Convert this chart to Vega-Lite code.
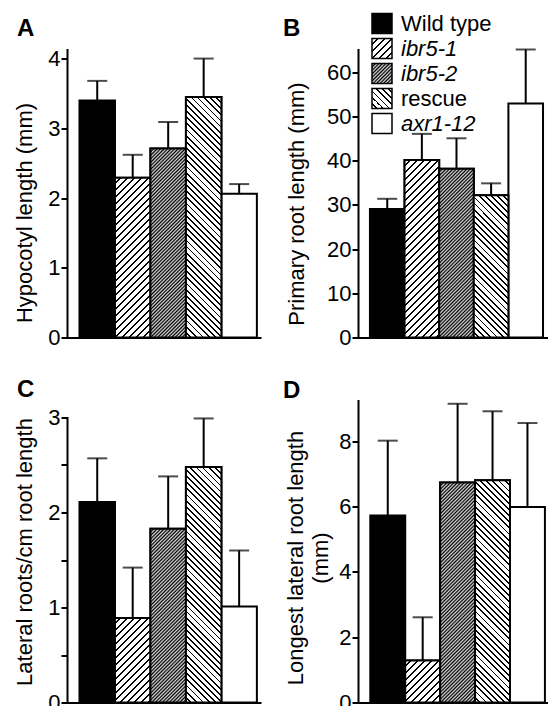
{
"$schema":"https://vega.github.io/schema/vega-lite/v6.json",
"padding":{"left":12,"top":12.5,"right":0,"bottom":0},
"params":[
{"name":"S1","value":[{"offset":0,"color":"#fff"},{"offset":0.0175,"color":"#fff"},{"offset":0.0175,"color":"#000"},{"offset":0.025,"color":"#000"},{"offset":0.025,"color":"#fff"},{"offset":0.0425,"color":"#fff"},{"offset":0.0425,"color":"#000"},{"offset":0.05,"color":"#000"},{"offset":0.05,"color":"#fff"},{"offset":0.0675,"color":"#fff"},{"offset":0.0675,"color":"#000"},{"offset":0.075,"color":"#000"},{"offset":0.075,"color":"#fff"},{"offset":0.0925,"color":"#fff"},{"offset":0.0925,"color":"#000"},{"offset":0.1,"color":"#000"},{"offset":0.1,"color":"#fff"},{"offset":0.1175,"color":"#fff"},{"offset":0.1175,"color":"#000"},{"offset":0.125,"color":"#000"},{"offset":0.125,"color":"#fff"},{"offset":0.1425,"color":"#fff"},{"offset":0.1425,"color":"#000"},{"offset":0.15,"color":"#000"},{"offset":0.15,"color":"#fff"},{"offset":0.1675,"color":"#fff"},{"offset":0.1675,"color":"#000"},{"offset":0.175,"color":"#000"},{"offset":0.175,"color":"#fff"},{"offset":0.1925,"color":"#fff"},{"offset":0.1925,"color":"#000"},{"offset":0.2,"color":"#000"},{"offset":0.2,"color":"#fff"},{"offset":0.2175,"color":"#fff"},{"offset":0.2175,"color":"#000"},{"offset":0.225,"color":"#000"},{"offset":0.225,"color":"#fff"},{"offset":0.2425,"color":"#fff"},{"offset":0.2425,"color":"#000"},{"offset":0.25,"color":"#000"},{"offset":0.25,"color":"#fff"},{"offset":0.2675,"color":"#fff"},{"offset":0.2675,"color":"#000"},{"offset":0.275,"color":"#000"},{"offset":0.275,"color":"#fff"},{"offset":0.2925,"color":"#fff"},{"offset":0.2925,"color":"#000"},{"offset":0.3,"color":"#000"},{"offset":0.3,"color":"#fff"},{"offset":0.3175,"color":"#fff"},{"offset":0.3175,"color":"#000"},{"offset":0.325,"color":"#000"},{"offset":0.325,"color":"#fff"},{"offset":0.3425,"color":"#fff"},{"offset":0.3425,"color":"#000"},{"offset":0.35,"color":"#000"},{"offset":0.35,"color":"#fff"},{"offset":0.3675,"color":"#fff"},{"offset":0.3675,"color":"#000"},{"offset":0.375,"color":"#000"},{"offset":0.375,"color":"#fff"},{"offset":0.3925,"color":"#fff"},{"offset":0.3925,"color":"#000"},{"offset":0.4,"color":"#000"},{"offset":0.4,"color":"#fff"},{"offset":0.4175,"color":"#fff"},{"offset":0.4175,"color":"#000"},{"offset":0.425,"color":"#000"},{"offset":0.425,"color":"#fff"},{"offset":0.4425,"color":"#fff"},{"offset":0.4425,"color":"#000"},{"offset":0.45,"color":"#000"},{"offset":0.45,"color":"#fff"},{"offset":0.4675,"color":"#fff"},{"offset":0.4675,"color":"#000"},{"offset":0.475,"color":"#000"},{"offset":0.475,"color":"#fff"},{"offset":0.4925,"color":"#fff"},{"offset":0.4925,"color":"#000"},{"offset":0.5,"color":"#000"},{"offset":0.5,"color":"#fff"},{"offset":0.5175,"color":"#fff"},{"offset":0.5175,"color":"#000"},{"offset":0.525,"color":"#000"},{"offset":0.525,"color":"#fff"},{"offset":0.5425,"color":"#fff"},{"offset":0.5425,"color":"#000"},{"offset":0.55,"color":"#000"},{"offset":0.55,"color":"#fff"},{"offset":0.5675,"color":"#fff"},{"offset":0.5675,"color":"#000"},{"offset":0.575,"color":"#000"},{"offset":0.575,"color":"#fff"},{"offset":0.5925,"color":"#fff"},{"offset":0.5925,"color":"#000"},{"offset":0.6,"color":"#000"},{"offset":0.6,"color":"#fff"},{"offset":0.6175,"color":"#fff"},{"offset":0.6175,"color":"#000"},{"offset":0.625,"color":"#000"},{"offset":0.625,"color":"#fff"},{"offset":0.6425,"color":"#fff"},{"offset":0.6425,"color":"#000"},{"offset":0.65,"color":"#000"},{"offset":0.65,"color":"#fff"},{"offset":0.6675,"color":"#fff"},{"offset":0.6675,"color":"#000"},{"offset":0.675,"color":"#000"},{"offset":0.675,"color":"#fff"},{"offset":0.6925,"color":"#fff"},{"offset":0.6925,"color":"#000"},{"offset":0.7,"color":"#000"},{"offset":0.7,"color":"#fff"},{"offset":0.7175,"color":"#fff"},{"offset":0.7175,"color":"#000"},{"offset":0.725,"color":"#000"},{"offset":0.725,"color":"#fff"},{"offset":0.7425,"color":"#fff"},{"offset":0.7425,"color":"#000"},{"offset":0.75,"color":"#000"},{"offset":0.75,"color":"#fff"},{"offset":0.7675,"color":"#fff"},{"offset":0.7675,"color":"#000"},{"offset":0.775,"color":"#000"},{"offset":0.775,"color":"#fff"},{"offset":0.7925,"color":"#fff"},{"offset":0.7925,"color":"#000"},{"offset":0.8,"color":"#000"},{"offset":0.8,"color":"#fff"},{"offset":1,"color":"#fff"}]},
{"name":"S2","value":[{"offset":0,"color":"#000"},{"offset":0.00625,"color":"#ddd"},{"offset":0.0125,"color":"#000"},{"offset":0.01875,"color":"#ddd"},{"offset":0.025,"color":"#000"},{"offset":0.03125,"color":"#ddd"},{"offset":0.0375,"color":"#000"},{"offset":0.04375,"color":"#ddd"},{"offset":0.05,"color":"#000"},{"offset":0.05625,"color":"#ddd"},{"offset":0.0625,"color":"#000"},{"offset":0.06875,"color":"#ddd"},{"offset":0.075,"color":"#000"},{"offset":0.08125,"color":"#ddd"},{"offset":0.0875,"color":"#000"},{"offset":0.09375,"color":"#ddd"},{"offset":0.1,"color":"#000"},{"offset":0.10625,"color":"#ddd"},{"offset":0.1125,"color":"#000"},{"offset":0.11875,"color":"#ddd"},{"offset":0.125,"color":"#000"},{"offset":0.13125,"color":"#ddd"},{"offset":0.1375,"color":"#000"},{"offset":0.14375,"color":"#ddd"},{"offset":0.15,"color":"#000"},{"offset":0.15625,"color":"#ddd"},{"offset":0.1625,"color":"#000"},{"offset":0.16875,"color":"#ddd"},{"offset":0.175,"color":"#000"},{"offset":0.18125,"color":"#ddd"},{"offset":0.1875,"color":"#000"},{"offset":0.19375,"color":"#ddd"},{"offset":0.2,"color":"#000"},{"offset":0.20625,"color":"#ddd"},{"offset":0.2125,"color":"#000"},{"offset":0.21875,"color":"#ddd"},{"offset":0.225,"color":"#000"},{"offset":0.23125,"color":"#ddd"},{"offset":0.2375,"color":"#000"},{"offset":0.24375,"color":"#ddd"},{"offset":0.25,"color":"#000"},{"offset":0.25625,"color":"#ddd"},{"offset":0.2625,"color":"#000"},{"offset":0.26875,"color":"#ddd"},{"offset":0.275,"color":"#000"},{"offset":0.28125,"color":"#ddd"},{"offset":0.2875,"color":"#000"},{"offset":0.29375,"color":"#ddd"},{"offset":0.3,"color":"#000"},{"offset":0.30625,"color":"#ddd"},{"offset":0.3125,"color":"#000"},{"offset":0.31875,"color":"#ddd"},{"offset":0.325,"color":"#000"},{"offset":0.33125,"color":"#ddd"},{"offset":0.3375,"color":"#000"},{"offset":0.34375,"color":"#ddd"},{"offset":0.35,"color":"#000"},{"offset":0.35625,"color":"#ddd"},{"offset":0.3625,"color":"#000"},{"offset":0.36875,"color":"#ddd"},{"offset":0.375,"color":"#000"},{"offset":0.38125,"color":"#ddd"},{"offset":0.3875,"color":"#000"},{"offset":0.39375,"color":"#ddd"},{"offset":0.4,"color":"#000"},{"offset":0.40625,"color":"#ddd"},{"offset":0.4125,"color":"#000"},{"offset":0.41875,"color":"#ddd"},{"offset":0.425,"color":"#000"},{"offset":0.43125,"color":"#ddd"},{"offset":0.4375,"color":"#000"},{"offset":0.44375,"color":"#ddd"},{"offset":0.45,"color":"#000"},{"offset":0.45625,"color":"#ddd"},{"offset":0.4625,"color":"#000"},{"offset":0.46875,"color":"#ddd"},{"offset":0.475,"color":"#000"},{"offset":0.48125,"color":"#ddd"},{"offset":0.4875,"color":"#000"},{"offset":0.49375,"color":"#ddd"},{"offset":0.5,"color":"#000"},{"offset":0.50625,"color":"#ddd"},{"offset":0.5125,"color":"#000"},{"offset":0.51875,"color":"#ddd"},{"offset":0.525,"color":"#000"},{"offset":0.53125,"color":"#ddd"},{"offset":0.5375,"color":"#000"},{"offset":0.54375,"color":"#ddd"},{"offset":0.55,"color":"#000"},{"offset":0.55625,"color":"#ddd"},{"offset":0.5625,"color":"#000"},{"offset":0.56875,"color":"#ddd"},{"offset":0.575,"color":"#000"},{"offset":0.58125,"color":"#ddd"},{"offset":0.5875,"color":"#000"},{"offset":0.59375,"color":"#ddd"},{"offset":0.6,"color":"#000"},{"offset":0.60625,"color":"#ddd"},{"offset":0.6125,"color":"#000"},{"offset":0.61875,"color":"#ddd"},{"offset":0.625,"color":"#000"},{"offset":0.63125,"color":"#ddd"},{"offset":0.6375,"color":"#000"},{"offset":0.64375,"color":"#ddd"},{"offset":0.65,"color":"#000"},{"offset":0.65625,"color":"#ddd"},{"offset":0.6625,"color":"#000"},{"offset":0.66875,"color":"#ddd"},{"offset":0.675,"color":"#000"},{"offset":0.68125,"color":"#ddd"},{"offset":0.6875,"color":"#000"},{"offset":0.69375,"color":"#ddd"},{"offset":0.7,"color":"#000"},{"offset":0.70625,"color":"#ddd"},{"offset":0.7125,"color":"#000"},{"offset":0.71875,"color":"#ddd"},{"offset":0.725,"color":"#000"},{"offset":0.73125,"color":"#ddd"},{"offset":0.7375,"color":"#000"},{"offset":0.74375,"color":"#ddd"},{"offset":0.75,"color":"#000"},{"offset":0.75625,"color":"#ddd"},{"offset":0.7625,"color":"#000"},{"offset":0.76875,"color":"#ddd"},{"offset":0.775,"color":"#000"},{"offset":0.78125,"color":"#ddd"},{"offset":0.7875,"color":"#000"},{"offset":0.79375,"color":"#ddd"},{"offset":0.8,"color":"#000"},{"offset":0.80625,"color":"#ddd"},{"offset":0.8125,"color":"#000"},{"offset":0.81875,"color":"#ddd"},{"offset":0.825,"color":"#000"},{"offset":0.83125,"color":"#ddd"},{"offset":0.8375,"color":"#000"},{"offset":0.84375,"color":"#ddd"},{"offset":0.85,"color":"#000"},{"offset":0.85625,"color":"#ddd"},{"offset":0.8625,"color":"#000"},{"offset":0.86875,"color":"#ddd"},{"offset":0.875,"color":"#000"},{"offset":0.88125,"color":"#ddd"},{"offset":0.8875,"color":"#000"},{"offset":0.89375,"color":"#ddd"},{"offset":0.9,"color":"#000"},{"offset":0.90625,"color":"#ddd"},{"offset":0.9125,"color":"#000"},{"offset":0.91875,"color":"#ddd"},{"offset":0.925,"color":"#000"},{"offset":1,"color":"#000"}]},
{"name":"S3","value":[{"offset":0,"color":"#fff"},{"offset":0.0155,"color":"#fff"},{"offset":0.0155,"color":"#000"},{"offset":0.022,"color":"#000"},{"offset":0.022,"color":"#fff"},{"offset":0.0375,"color":"#fff"},{"offset":0.0375,"color":"#000"},{"offset":0.044,"color":"#000"},{"offset":0.044,"color":"#fff"},{"offset":0.0595,"color":"#fff"},{"offset":0.0595,"color":"#000"},{"offset":0.066,"color":"#000"},{"offset":0.066,"color":"#fff"},{"offset":0.0815,"color":"#fff"},{"offset":0.0815,"color":"#000"},{"offset":0.088,"color":"#000"},{"offset":0.088,"color":"#fff"},{"offset":0.1035,"color":"#fff"},{"offset":0.1035,"color":"#000"},{"offset":0.11,"color":"#000"},{"offset":0.11,"color":"#fff"},{"offset":0.1255,"color":"#fff"},{"offset":0.1255,"color":"#000"},{"offset":0.132,"color":"#000"},{"offset":0.132,"color":"#fff"},{"offset":0.1475,"color":"#fff"},{"offset":0.1475,"color":"#000"},{"offset":0.154,"color":"#000"},{"offset":0.154,"color":"#fff"},{"offset":0.1695,"color":"#fff"},{"offset":0.1695,"color":"#000"},{"offset":0.176,"color":"#000"},{"offset":0.176,"color":"#fff"},{"offset":0.1915,"color":"#fff"},{"offset":0.1915,"color":"#000"},{"offset":0.198,"color":"#000"},{"offset":0.198,"color":"#fff"},{"offset":0.2135,"color":"#fff"},{"offset":0.2135,"color":"#000"},{"offset":0.22,"color":"#000"},{"offset":0.22,"color":"#fff"},{"offset":0.2355,"color":"#fff"},{"offset":0.2355,"color":"#000"},{"offset":0.242,"color":"#000"},{"offset":0.242,"color":"#fff"},{"offset":0.2575,"color":"#fff"},{"offset":0.2575,"color":"#000"},{"offset":0.264,"color":"#000"},{"offset":0.264,"color":"#fff"},{"offset":0.2795,"color":"#fff"},{"offset":0.2795,"color":"#000"},{"offset":0.286,"color":"#000"},{"offset":0.286,"color":"#fff"},{"offset":0.3015,"color":"#fff"},{"offset":0.3015,"color":"#000"},{"offset":0.308,"color":"#000"},{"offset":0.308,"color":"#fff"},{"offset":0.3235,"color":"#fff"},{"offset":0.3235,"color":"#000"},{"offset":0.33,"color":"#000"},{"offset":0.33,"color":"#fff"},{"offset":0.3455,"color":"#fff"},{"offset":0.3455,"color":"#000"},{"offset":0.352,"color":"#000"},{"offset":0.352,"color":"#fff"},{"offset":0.3675,"color":"#fff"},{"offset":0.3675,"color":"#000"},{"offset":0.374,"color":"#000"},{"offset":0.374,"color":"#fff"},{"offset":0.3895,"color":"#fff"},{"offset":0.3895,"color":"#000"},{"offset":0.396,"color":"#000"},{"offset":0.396,"color":"#fff"},{"offset":0.4115,"color":"#fff"},{"offset":0.4115,"color":"#000"},{"offset":0.418,"color":"#000"},{"offset":0.418,"color":"#fff"},{"offset":0.4335,"color":"#fff"},{"offset":0.4335,"color":"#000"},{"offset":0.44,"color":"#000"},{"offset":0.44,"color":"#fff"},{"offset":0.4555,"color":"#fff"},{"offset":0.4555,"color":"#000"},{"offset":0.462,"color":"#000"},{"offset":0.462,"color":"#fff"},{"offset":0.4775,"color":"#fff"},{"offset":0.4775,"color":"#000"},{"offset":0.484,"color":"#000"},{"offset":0.484,"color":"#fff"},{"offset":0.4995,"color":"#fff"},{"offset":0.4995,"color":"#000"},{"offset":0.506,"color":"#000"},{"offset":0.506,"color":"#fff"},{"offset":0.5215,"color":"#fff"},{"offset":0.5215,"color":"#000"},{"offset":0.528,"color":"#000"},{"offset":0.528,"color":"#fff"},{"offset":0.5435,"color":"#fff"},{"offset":0.5435,"color":"#000"},{"offset":0.55,"color":"#000"},{"offset":0.55,"color":"#fff"},{"offset":0.5655,"color":"#fff"},{"offset":0.5655,"color":"#000"},{"offset":0.572,"color":"#000"},{"offset":0.572,"color":"#fff"},{"offset":0.5875,"color":"#fff"},{"offset":0.5875,"color":"#000"},{"offset":0.594,"color":"#000"},{"offset":0.594,"color":"#fff"},{"offset":0.6095,"color":"#fff"},{"offset":0.6095,"color":"#000"},{"offset":0.616,"color":"#000"},{"offset":0.616,"color":"#fff"},{"offset":0.6315,"color":"#fff"},{"offset":0.6315,"color":"#000"},{"offset":0.638,"color":"#000"},{"offset":0.638,"color":"#fff"},{"offset":0.6535,"color":"#fff"},{"offset":0.6535,"color":"#000"},{"offset":0.66,"color":"#000"},{"offset":0.66,"color":"#fff"},{"offset":0.6755,"color":"#fff"},{"offset":0.6755,"color":"#000"},{"offset":0.682,"color":"#000"},{"offset":0.682,"color":"#fff"},{"offset":0.6975,"color":"#fff"},{"offset":0.6975,"color":"#000"},{"offset":0.704,"color":"#000"},{"offset":0.704,"color":"#fff"},{"offset":0.7195,"color":"#fff"},{"offset":0.7195,"color":"#000"},{"offset":0.726,"color":"#000"},{"offset":0.726,"color":"#fff"},{"offset":0.7415,"color":"#fff"},{"offset":0.7415,"color":"#000"},{"offset":0.748,"color":"#000"},{"offset":0.748,"color":"#fff"},{"offset":0.7635,"color":"#fff"},{"offset":0.7635,"color":"#000"},{"offset":0.77,"color":"#000"},{"offset":0.77,"color":"#fff"},{"offset":0.7855,"color":"#fff"},{"offset":0.7855,"color":"#000"},{"offset":0.792,"color":"#000"},{"offset":0.792,"color":"#fff"},{"offset":0.8075,"color":"#fff"},{"offset":0.8075,"color":"#000"},{"offset":0.814,"color":"#000"},{"offset":0.814,"color":"#fff"},{"offset":0.8295,"color":"#fff"},{"offset":0.8295,"color":"#000"},{"offset":0.836,"color":"#000"},{"offset":0.836,"color":"#fff"},{"offset":0.8515,"color":"#fff"},{"offset":0.8515,"color":"#000"},{"offset":0.858,"color":"#000"},{"offset":0.858,"color":"#fff"},{"offset":0.8735,"color":"#fff"},{"offset":0.8735,"color":"#000"},{"offset":0.88,"color":"#000"},{"offset":0.88,"color":"#fff"},{"offset":0.8955,"color":"#fff"},{"offset":0.8955,"color":"#000"},{"offset":0.902,"color":"#000"},{"offset":0.902,"color":"#fff"},{"offset":0.9175,"color":"#fff"},{"offset":0.9175,"color":"#000"},{"offset":0.924,"color":"#000"},{"offset":0.924,"color":"#fff"},{"offset":0.9395,"color":"#fff"},{"offset":0.9395,"color":"#000"},{"offset":0.946,"color":"#000"},{"offset":0.946,"color":"#fff"},{"offset":0.9615,"color":"#fff"},{"offset":0.9615,"color":"#000"},{"offset":0.968,"color":"#000"},{"offset":0.968,"color":"#fff"},{"offset":0.9835,"color":"#fff"},{"offset":0.9835,"color":"#000"},{"offset":0.99,"color":"#000"},{"offset":0.99,"color":"#fff"},{"offset":1,"color":"#fff"}]}
],
"datasets":{
"A":[{"g":"Wild type","mean":3.40,"hi":3.68},{"g":"ibr5-1","mean":2.29,"hi":2.62},{"g":"ibr5-2","mean":2.71,"hi":3.09},{"g":"rescue","mean":3.45,"hi":4.00},{"g":"axr1-12","mean":2.06,"hi":2.20}],
"B":[{"g":"Wild type","mean":29.1,"hi":31.4},{"g":"ibr5-1","mean":40.2,"hi":46.1},{"g":"ibr5-2","mean":38.2,"hi":45.1},{"g":"rescue","mean":32.2,"hi":34.9},{"g":"axr1-12","mean":53.0,"hi":65.2}],
"C":[{"g":"Wild type","mean":2.11,"hi":2.57},{"g":"ibr5-1","mean":0.89,"hi":1.42},{"g":"ibr5-2","mean":1.83,"hi":2.38},{"g":"rescue","mean":2.48,"hi":2.99},{"g":"axr1-12","mean":1.01,"hi":1.60}],
"D":[{"g":"Wild type","mean":5.73,"hi":8.02},{"g":"ibr5-1","mean":1.29,"hi":2.61},{"g":"ibr5-2","mean":6.74,"hi":9.15},{"g":"rescue","mean":6.81,"hi":8.92},{"g":"axr1-12","mean":5.99,"hi":8.56}]
},
"columns":2,
"spacing":{"row":29,"column":23},
"resolve":{"scale":{"fill":"independent"},"legend":{"fill":"independent"}},
"concat":[
{"width":193,"height":288,"title":{"text":"A","frame":"group","offset":7,"dx":-50},"data":{"name":"A"},
"encoding":{"x":{"field":"g","type":"nominal","sort":null,"scale":{"domain":["Wild type","ibr5-1","ibr5-2","rescue","axr1-12"],"paddingInner":0,"paddingOuter":0.22,"align":0.8},"axis":{"title":null,"labels":false,"ticks":false}}},
"layer":[
{"mark":{"type":"bar","stroke":"black","strokeWidth":2},"encoding":{"y":{"field":"mean","type":"quantitative","title":"Hypocotyl length (mm)","scale":{"domain":[0,4.13],"nice":false},"axis":{"values":[0,0.5,1,1.5,2,2.5,3,3.5,4],"labelExpr":"datum.value % 1 ? '' : format(datum.value, 'd')","titleX":-31,"titleY":163}},"fill":{"field":"g","type":"nominal","scale":{"domain":["Wild type","ibr5-1","ibr5-2","rescue","axr1-12"],"range":["black","white","#555","white","white"]},"legend":null}}},
{"transform":[{"filter":"datum.g=='ibr5-1'||datum.g=='ibr5-2'||datum.g=='rescue'"}],"mark":{"type":"bar","stroke":"black","strokeWidth":2,"fill":{"expr":"{gradient:'linear',x1:0,y1:datum.g=='rescue'?1:0,x2:9934/(1259+pow(69.73*datum.mean,2)),y2:datum.g=='rescue'?1-19524*datum.mean/(1259+pow(69.73*datum.mean,2)):19524*datum.mean/(1259+pow(69.73*datum.mean,2)),stops:datum.g=='ibr5-1'?S1:datum.g=='ibr5-2'?S2:S3}"}},"encoding":{"y":{"field":"mean","type":"quantitative","title":"Hypocotyl length (mm)"}}},
{"mark":{"type":"rule","color":"black","strokeWidth":2},"encoding":{"y":{"field":"mean","type":"quantitative","title":"Hypocotyl length (mm)"},"y2":{"field":"hi"}}},
{"mark":{"type":"tick","color":"black","thickness":2,"size":20},"encoding":{"y":{"field":"hi","type":"quantitative","title":"Hypocotyl length (mm)"}}}
]},
{"width":189,"height":288,"title":{"text":"B","frame":"group","offset":-28,"dx":-75},"data":{"name":"B"},
"encoding":{"x":{"field":"g","type":"nominal","sort":null,"scale":{"domain":["Wild type","ibr5-1","ibr5-2","rescue","axr1-12"],"paddingInner":0,"paddingOuter":0.23,"align":0.75},"axis":{"title":null,"labels":false,"ticks":false}}},
"layer":[
{"mark":{"type":"bar","stroke":"black","strokeWidth":2},"encoding":{"y":{"field":"mean","type":"quantitative","title":"Primary root length (mm)","scale":{"domain":[0,65.2],"nice":false},"axis":{"values":[0,10,20,30,40,50,60],"format":"d","titleX":-50,"titleY":154}},"fill":{"field":"g","type":"nominal","scale":{"domain":["Wild type","ibr5-1","ibr5-2","rescue","axr1-12"],"range":["black",{"expr":"{gradient:'linear',x1:0,y1:0,x2:7,y2:7,stops:S1}"},{"expr":"{gradient:'linear',x1:0,y1:0,x2:7,y2:7,stops:S2}"},{"expr":"{gradient:'linear',x1:0,y1:1,x2:7,y2:-6,stops:S3}"},"white"]},"legend":{"title":null,"orient":"none","legendX":13,"legendY":-37,"symbolType":"square","symbolSize":400,"symbolStrokeColor":"black","symbolStrokeWidth":1.5,"symbolOpacity":1,"labelFont":"Liberation Sans","labelFontSize":22,"labelColor":"black","labelOffset":8,"rowPadding":-1,"encode":{"labels":{"update":{"fontStyle":{"signal":"datum.value=='Wild type'||datum.value=='rescue'?'normal':'italic'"}}}}}}}},
{"transform":[{"filter":"datum.g=='ibr5-1'||datum.g=='ibr5-2'||datum.g=='rescue'"}],"mark":{"type":"bar","stroke":"black","strokeWidth":2,"fill":{"expr":"{gradient:'linear',x1:0,y1:datum.g=='rescue'?1:0,x2:9694/(1198+pow(4.417*datum.mean,2)),y2:datum.g=='rescue'?1-1236.8*datum.mean/(1198+pow(4.417*datum.mean,2)):1236.8*datum.mean/(1198+pow(4.417*datum.mean,2)),stops:datum.g=='ibr5-1'?S1:datum.g=='ibr5-2'?S2:S3}"}},"encoding":{"y":{"field":"mean","type":"quantitative","title":"Primary root length (mm)"}}},
{"mark":{"type":"rule","color":"black","strokeWidth":2},"encoding":{"y":{"field":"mean","type":"quantitative","title":"Primary root length (mm)"},"y2":{"field":"hi"}}},
{"mark":{"type":"tick","color":"black","thickness":2,"size":20},"encoding":{"y":{"field":"hi","type":"quantitative","title":"Primary root length (mm)"}}}
]},
{"width":193,"height":302,"title":{"text":"C","frame":"group","offset":-1,"dx":-50},"data":{"name":"C"},
"encoding":{"x":{"field":"g","type":"nominal","sort":null,"scale":{"domain":["Wild type","ibr5-1","ibr5-2","rescue","axr1-12"],"paddingInner":0,"paddingOuter":0.22,"align":0.8},"axis":{"title":null,"labels":false,"ticks":false}}},
"layer":[
{"mark":{"type":"bar","stroke":"black","strokeWidth":2},"encoding":{"y":{"field":"mean","type":"quantitative","title":"Lateral roots/cm root length","scale":{"domain":[0,3],"range":[302,17],"nice":false},"axis":{"values":[0,0.5,1,1.5,2,2.5,3],"labelExpr":"datum.value % 1 ? '' : format(datum.value, 'd')","titleX":-31,"titleY":151}},"fill":{"field":"g","type":"nominal","scale":{"domain":["Wild type","ibr5-1","ibr5-2","rescue","axr1-12"],"range":["black","white","#555","white","white"]},"legend":null}}},
{"transform":[{"filter":"datum.g=='ibr5-1'||datum.g=='ibr5-2'||datum.g=='rescue'"}],"mark":{"type":"bar","stroke":"black","strokeWidth":2,"fill":{"expr":"{gradient:'linear',x1:0,y1:datum.g=='rescue'?1:0,x2:9934/(1259+pow(95*datum.mean,2)),y2:datum.g=='rescue'?1-26600*datum.mean/(1259+pow(95*datum.mean,2)):26600*datum.mean/(1259+pow(95*datum.mean,2)),stops:datum.g=='ibr5-1'?S1:datum.g=='ibr5-2'?S2:S3}"}},"encoding":{"y":{"field":"mean","type":"quantitative","title":"Lateral roots/cm root length"}}},
{"mark":{"type":"rule","color":"black","strokeWidth":2},"encoding":{"y":{"field":"mean","type":"quantitative","title":"Lateral roots/cm root length"},"y2":{"field":"hi"}}},
{"mark":{"type":"tick","color":"black","thickness":2,"size":20},"encoding":{"y":{"field":"hi","type":"quantitative","title":"Lateral roots/cm root length"}}}
]},
{"width":190,"height":302,"title":{"text":"D","frame":"group","offset":-2,"dx":-75},"data":{"name":"D"},
"encoding":{"x":{"field":"g","type":"nominal","sort":null,"scale":{"domain":["Wild type","ibr5-1","ibr5-2","rescue","axr1-12"],"paddingInner":0,"paddingOuter":0.22,"align":0.8},"axis":{"title":null,"labels":false,"ticks":false}}},
"layer":[
{"mark":{"type":"bar","stroke":"black","strokeWidth":2},"encoding":{"y":{"field":"mean","type":"quantitative","title":["Longest lateral root length","(mm)"],"scale":{"domain":[0,9.25],"nice":false},"axis":{"values":[0,2,4,6,8],"format":"d","titleX":-51,"titleY":157,"titleLineHeight":25}},"fill":{"field":"g","type":"nominal","scale":{"domain":["Wild type","ibr5-1","ibr5-2","rescue","axr1-12"],"range":["black","white","#555","white","white"]},"legend":null}}},
{"transform":[{"filter":"datum.g=='ibr5-1'||datum.g=='ibr5-2'||datum.g=='rescue'"}],"mark":{"type":"bar","stroke":"black","strokeWidth":2,"fill":{"expr":"{gradient:'linear',x1:0,y1:datum.g=='rescue'?1:0,x2:9780/(1220+pow(32.65*datum.mean,2)),y2:datum.g=='rescue'?1-9142*datum.mean/(1220+pow(32.65*datum.mean,2)):9142*datum.mean/(1220+pow(32.65*datum.mean,2)),stops:datum.g=='ibr5-1'?S1:datum.g=='ibr5-2'?S2:S3}"}},"encoding":{"y":{"field":"mean","type":"quantitative","title":["Longest lateral root length","(mm)"]}}},
{"mark":{"type":"rule","color":"black","strokeWidth":2},"encoding":{"y":{"field":"mean","type":"quantitative","title":["Longest lateral root length","(mm)"]},"y2":{"field":"hi"}}},
{"mark":{"type":"tick","color":"black","thickness":2,"size":20},"encoding":{"y":{"field":"hi","type":"quantitative","title":["Longest lateral root length","(mm)"]}}}
]}
],
"config":{
"font":"Liberation Sans",
"view":{"stroke":null},
"axis":{"domainColor":"black","domainWidth":2,"domainCap":"square","tickColor":"black","tickWidth":2,"tickSize":6,"labelPadding":1,"labelFont":"Liberation Sans","labelFontSize":22,"labelColor":"black","titleFont":"Liberation Sans","titleFontSize":22,"titleFontWeight":"normal","titleColor":"black","grid":false,"labelOverlap":false},
"title":{"font":"Liberation Sans","fontSize":24,"fontWeight":"bold","color":"black","anchor":"start","baseline":"alphabetic"}
}
}
